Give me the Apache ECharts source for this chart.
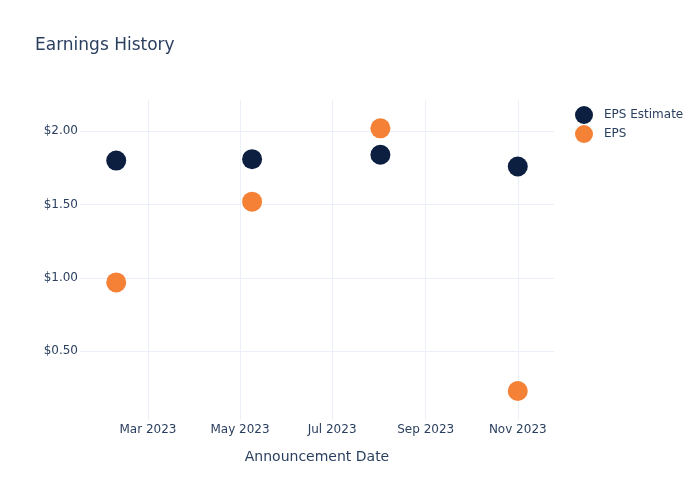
<!DOCTYPE html>
<html><head><meta charset="utf-8">
<script src="https://cdn.jsdelivr.net/npm/echarts@6/dist/echarts.min.js"></script>
<style>html,body{margin:0;padding:0;background:#fff}#c{width:700px;height:500px}</style>
</head><body><div id="c"></div>
<script>
const dates = ['2023-02-08', '2023-05-09', '2023-08-02', '2023-11-01'];
const epsEstimate = [1.80, 1.81, 1.84, 1.76];
const eps = [0.97, 1.52, 2.02, 0.23];
const xTicks = ['2023-03-01', '2023-05-01', '2023-07-01', '2023-09-01', '2023-11-01'];
const xTickLabels = ['Mar 2023', 'May 2023', 'Jul 2023', 'Sep 2023', 'Nov 2023'];
const yTicks = [0.5, 1.0, 1.5, 2.0];

const ts = s => new Date(s + 'T00:00:00Z').getTime();
const xTickTs = xTicks.map(ts);
const font = 'DejaVu Sans';
const txt = '#2a3f5f';
const gridColor = '#ebf0f8';

const chart = echarts.init(document.getElementById('c'), null, {renderer: 'canvas'});
chart.setOption({
  animation: false,
  backgroundColor: '#fff',
  textStyle: {fontFamily: font},
  title: {
    text: 'Earnings History', left: 35, top: 37, padding: 0,
    textStyle: {fontFamily: font, fontSize: 17, fontWeight: 'normal', color: txt}
  },
  legend: {
    orient: 'vertical', left: 570, top: 101, itemWidth: 18, itemHeight: 18, itemGap: 1,
    icon: 'circle',
    textStyle: {fontFamily: font, fontSize: 12, color: txt, padding: [0, 0, 0, 6]},
    data: ['EPS Estimate', 'EPS']
  },
  grid: {left: 80, right: 146, top: 100, bottom: 80, containLabel: false},
  xAxis: {
    type: 'value',
    min: ts('2023-01-15'), max: ts('2023-11-25'),
    name: 'Announcement Date', nameLocation: 'middle', nameGap: 30,
    nameTextStyle: {fontFamily: font, fontSize: 14, color: txt},
    axisLine: {show: false},
    axisTick: {show: false, customValues: xTickTs},
    axisLabel: {
      customValues: xTickTs, margin: 4, fontFamily: font, fontSize: 12, color: txt,
      formatter: v => { const i = xTickTs.indexOf(v); return i >= 0 ? xTickLabels[i] : ''; }
    },
    splitLine: {show: true, lineStyle: {color: gridColor, width: 1}}
  },
  yAxis: {
    type: 'value', min: 0.032, max: 2.213,
    axisLine: {show: false},
    axisTick: {show: false, customValues: yTicks},
    axisLabel: {
      customValues: yTicks, margin: 2, fontFamily: font, fontSize: 12, color: txt,
      formatter: v => '$' + v.toFixed(2)
    },
    splitLine: {show: true, lineStyle: {color: gridColor, width: 1}}
  },
  series: [
    {
      name: 'EPS Estimate', type: 'scatter', symbolSize: 20,
      itemStyle: {color: '#0c1f40', opacity: 1},
      data: dates.map((d, i) => [ts(d), epsEstimate[i]])
    },
    {
      name: 'EPS', type: 'scatter', symbolSize: 20,
      itemStyle: {color: '#f58137', opacity: 1},
      data: dates.map((d, i) => [ts(d), eps[i]])
    }
  ]
});
</script></body></html>
